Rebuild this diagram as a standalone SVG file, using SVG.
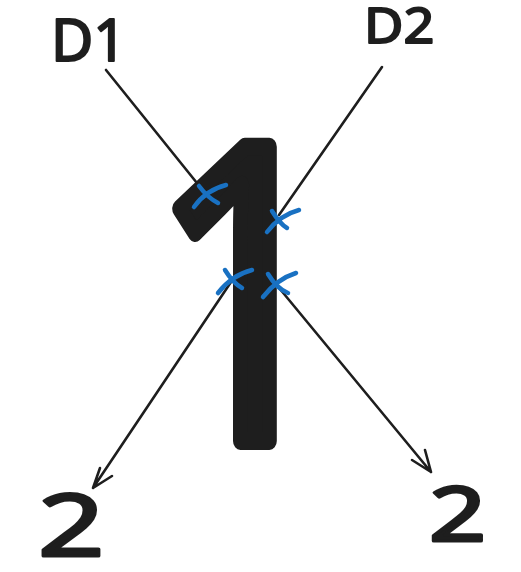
<svg xmlns="http://www.w3.org/2000/svg" width="521" height="572" viewBox="0 0 521 572">
<style>
.t{font-family:"Noto Sans","Open Sans",sans-serif;fill:#1e1e1e;stroke:#1e1e1e;stroke-width:2;stroke-linejoin:round}
.ln{fill:none;stroke:#1e1e1e;stroke-width:2.6;stroke-linecap:round;stroke-linejoin:round}
.x{fill:none;stroke:#1971c2;stroke-width:4.5;stroke-linecap:round}
</style>
<rect width="521" height="572" fill="#ffffff"/>
<g id="big1" transform="translate(149.5,0) scale(0.82,1)">
<text class="t" x="0" y="441" font-size="412" style="stroke-width:18">1</text>
</g>
<g id="d1"><text class="t" x="51" y="61" font-size="58">D1</text></g>
<g id="d2" transform="translate(364,0) scale(1.08,1)"><text class="t" x="0" y="43" font-size="50">D2</text></g>
<g id="two-left" transform="translate(38,0) scale(1.35,1)"><text class="t" x="0" y="556" font-size="86" style="stroke-width:3">2</text></g>
<g id="two-right" transform="translate(429,0) scale(1.35,1)"><text class="t" x="0" y="541" font-size="74" style="stroke-width:3">2</text></g>
<g id="connectors">
<path class="ln" d="M106 70 L205 193"/>
<path class="ln" d="M382 67 L279 215"/>
<path class="ln" d="M233 279 L93 488 M100 468 L93 488 L112 476"/>
<path class="ln" d="M275 283 L431 472 M425 450 L431 472 L412 460"/>
</g>
<g id="marks">
<path class="x" d="M194 207 Q206 190 226 185 M199 186 Q208 198 218 203"/>
<path class="x" d="M267 232 Q280 215 299 210 M272 211 Q280 224 287 228"/>
<path class="x" d="M218 293 Q232 275 252 270 M225 270 Q233 283 242 288"/>
<path class="x" d="M263 297 Q277 279 296 273 M268 274 Q277 289 288 293"/>
</g>
</svg>
